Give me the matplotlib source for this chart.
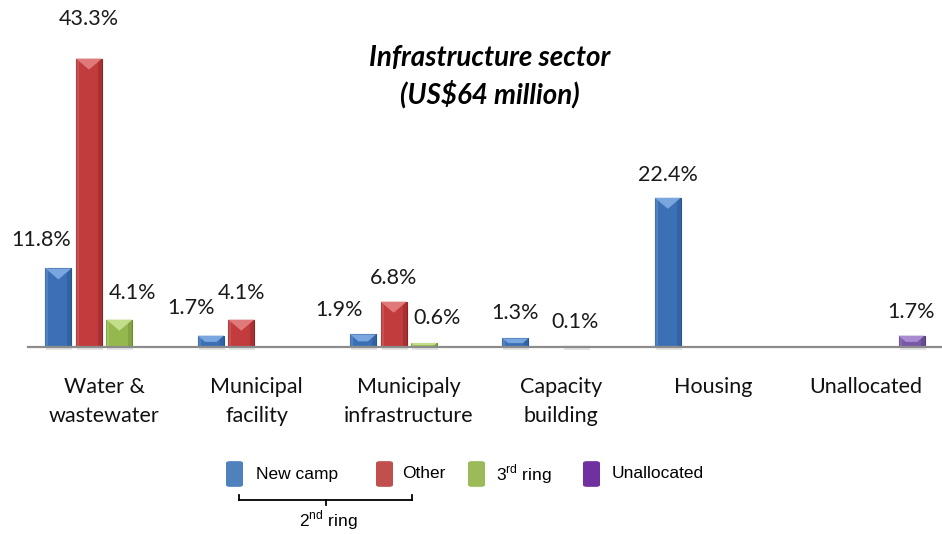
import matplotlib
matplotlib.use("Agg")
import matplotlib.pyplot as plt
from matplotlib.patches import Polygon, Rectangle, FancyBboxPatch
from matplotlib.lines import Line2D
import numpy as np

# ---------------- data ----------------
categories = ["Water &\nwastewater", "Municipal\nfacility", "Municipaly\ninfrastructure",
              "Capacity\nbuilding", "Housing", "Unallocated"]
series_names = ["New camp", "Other", "3rd ring", "Unallocated"]
new_camp = [11.8, 1.7, 1.9, 1.3, 22.4, None]
other = [43.3, 4.1, 6.8, None, None, None]
third_ring = [4.1, None, 0.6, 0.1, None, None]
unallocated = [None, None, None, None, None, 1.7]
series_values = [new_camp, other, third_ring, unallocated]

# label offsets in pixels (dx, dy) relative to bar top-centre
label_offsets = {
    (0, 0): (-17, 28), (1, 0): (0, 40), (2, 0): (13, 27),
    (0, 1): (-20, 28), (1, 1): (0, 27),
    (0, 2): (-24, 24), (1, 2): (0, 24), (2, 2): (13, 25),
    (0, 3): (0, 25), (2, 3): (-1, 24),
    (0, 4): (0, 23),
    (3, 5): (0, 24),
}

colors = ["#3C70B6", "#C23B3D", "#94B84E", "#7A58A8"]
light = ["#79A6DE", "#E07A7A", "#C4DD8A", "#A98BD0"]
dark = ["#2A548E", "#8E2527", "#6E8C32", "#563C7E"]
legend_colors = ["#4F81BD", "#C0504D", "#9BBB59", "#7030A0"]

W, H = 942, 534
fig = plt.figure(figsize=(W / 100, H / 100), dpi=100)

ax_left_px, ax_right_px = 28, 942
ax_bottom_px, ax_top_px = 347, 30
ax = fig.add_axes([ax_left_px / W, 1 - ax_bottom_px / H,
                   (ax_right_px - ax_left_px) / W, (ax_bottom_px - ax_top_px) / H])
n = len(categories)
ymax = (ax_bottom_px - ax_top_px) / 6.66
ax.set_xlim(-0.5, n - 0.5)
ax.set_ylim(0, ymax)
for s in ax.spines.values():
    s.set_visible(False)
ax.set_xticks([])
ax.set_yticks([])

pxx = (n) / (ax_right_px - ax_left_px)   # data units per px in x
pxy = ymax / (ax_bottom_px - ax_top_px)  # data units per px in y

offsets = [-0.3, -0.1, 0.1, 0.3]
bw = 26 * pxx

label_font = "Lato"
for si, vals in enumerate(series_values):
    for ci, v in enumerate(vals):
        if v is None:
            continue
        xc = ci + offsets[si]
        x0, x1 = xc - bw / 2, xc + bw / 2
        # shadow
        ax.add_patch(Rectangle((x0 + 1 * pxx, -3 * pxy), bw, 3 * pxy, color="#cccccc",
                               alpha=0.5, lw=0, zorder=1, clip_on=False))
        ax.add_patch(Rectangle((x0, 0), bw, v, facecolor=colors[si], edgecolor=dark[si],
                               lw=0.8, zorder=3))
        # side shading
        ax.add_patch(Rectangle((x1 - 4 * pxx, 0), 4 * pxx, v, facecolor=dark[si],
                               lw=0, alpha=0.45, zorder=3.5))
        ax.add_patch(Rectangle((x0, 0), 3 * pxx, v, facecolor=light[si],
                               lw=0, alpha=0.35, zorder=3.5))
        # top bevel
        hpx = v / pxy
        d = min(11.0, hpx * 0.55)
        inner = 13 * (1 - d / 11.0)
        poly = [(x0, v), (x1, v), (xc + inner * pxx, v - d * pxy), (xc - inner * pxx, v - d * pxy)]
        ax.add_patch(Polygon(poly, closed=True, facecolor=light[si], edgecolor="none",
                             zorder=4))
        dx, dy = label_offsets.get((si, ci), (0, 25))
        ax.annotate(f"{v:.1f}%", (xc, v), xytext=(dx, dy), textcoords="offset pixels",
                    ha="center", va="center", fontsize=15.5, family=label_font,
                    color="#1a1a1a", annotation_clip=False, zorder=6)

# baseline
ax.add_line(Line2D([-0.5, n - 0.5], [0, 0], color="#8c8c8c", lw=1.6, zorder=5,
                   clip_on=False))

# category labels (one text per line)
for ci, cat in enumerate(categories):
    for li, line in enumerate(cat.split("\n")):
        ax.annotate(line, (ci, 0), xytext=(0, -40 - 29 * li), textcoords="offset pixels",
                    ha="center", va="center", fontsize=15.5, family=label_font,
                    color="#111111", annotation_clip=False)

# title
fig.text(490 / W, 1 - 58 / H, "Infrastructure sector", ha="center", va="center",
         fontsize=20, family=label_font, weight="bold", style="italic")
fig.text(490 / W, 1 - 94 / H, "(US$64 million)", ha="center", va="center",
         fontsize=20, family=label_font, weight="bold", style="italic")

# legend
plt.rcParams["mathtext.fontset"] = "custom"
plt.rcParams["mathtext.rm"] = "Liberation Sans"
legend_labels = ["New camp", "Other", r"3$^{\mathrm{rd}}$ ring", "Unallocated"]
box_x = [226, 376, 468, 583]
text_x = [256, 402, 496, 612]
legend_y = 474
for i in range(4):
    fig.patches.append(FancyBboxPatch(((box_x[i] + 1.5) / W, 1 - (legend_y + 12) / H),
                                      14 / W, 24 / H,
                                      boxstyle="round,pad=0.0016,rounding_size=0.004",
                                      transform=fig.transFigure, facecolor=legend_colors[i],
                                      edgecolor="none", figure=fig))
    fig.text(text_x[i] / W, 1 - legend_y / H, legend_labels[i], ha="left", va="center",
             fontsize=12.5, family="Liberation Sans")

# bracket for 2nd ring
by = 500
for xs, ys in [([239, 412], [by, by]), ([239, 239], [by, by - 5]),
               ([412, 412], [by, by - 5]), ([326, 326], [by, by + 5])]:
    fig.add_artist(Line2D([x / W for x in xs], [1 - y / H for y in ys],
                          color="black", lw=1.3, transform=fig.transFigure))
fig.text(328 / W, 1 - 520 / H, r"2$^{\mathrm{nd}}$ ring", ha="center", va="center",
         fontsize=12.5, family="Liberation Sans")

fig.savefig("out.png", dpi=100)
